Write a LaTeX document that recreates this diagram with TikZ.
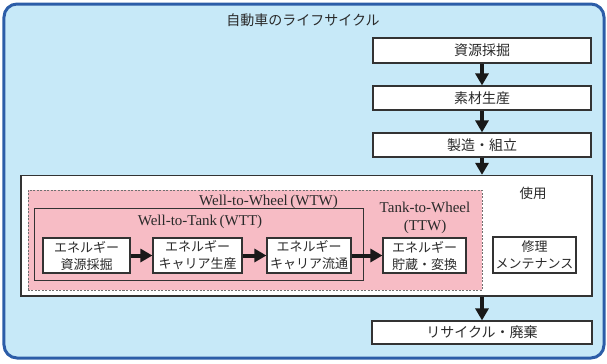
\documentclass[tikz,border=0pt]{standalone}
\usepackage{fontspec}
\setmainfont{Liberation Serif}
\newfontfamily\jp{Noto Sans CJK JP}
\usetikzlibrary{arrows.meta}
\definecolor{lifeblue}{HTML}{C7E9F8}
\definecolor{lifeborder}{HTML}{2C5DA8}
\definecolor{wtwpink}{HTML}{F7BCC5}
\definecolor{boxline}{HTML}{333333}
\definecolor{txt}{HTML}{2A2A2A}
\tikzset{
  lifebox/.style={draw=lifeborder, line width=3bp, fill=lifeblue, rounded corners=13bp, inner sep=0pt},
  stagebox/.style={draw=boxline, line width=1.2bp, fill=white, inner sep=0pt, text=txt,
    font=\jp\fontsize{14bp}{17bp}\selectfont},
  usebox/.style={draw=boxline, line width=1.3bp, fill=white, inner sep=0pt},
  pinkbox/.style={draw=boxline!70, line width=0.9bp, dash pattern=on 2bp off 1.5bp, fill=wtwpink, inner sep=0pt},
  wttbox/.style={draw=boxline, line width=1bp, inner sep=0pt},
  ebox/.style={draw=boxline, line width=1.2bp, fill=white, inner sep=0pt, align=center, text=txt,
    font=\jp\fontsize{13bp}{17bp}\selectfont},
  latinlabel/.style={inner sep=0pt, text=txt, align=center, font=\fontsize{15bp}{18bp}\selectfont},
  jplabel/.style={inner sep=0pt, text=txt, font=\jp\fontsize{14bp}{17bp}\selectfont},
  bigarrow/.style={line width=4bp, draw=black!90, -{Triangle[length=12bp,width=13bp]}},
}
\begin{document}
\begin{tikzpicture}[x=1bp,y=-1bp]
\useasboundingbox (0,0) rectangle (607,363);
% outer life-cycle frame
\node[lifebox, minimum width=600bp, minimum height=354bp] (life) at (304,181) {};
\node[jplabel] (title) at (303,20) {自動車のライフサイクル};
% right column
\node[stagebox, minimum width=218bp, minimum height=25bp] (r1) at (482,50.5) {資源採掘};
\node[stagebox, minimum width=218bp, minimum height=24bp] (r2) at (482,98) {素材生産};
\node[stagebox, minimum width=218bp, minimum height=24bp] (r3) at (482,145) {製造・組立};
% use box
\node[usebox, minimum width=571bp, minimum height=120.5bp] (use) at (306.5,235.75) {};
\node[jplabel, font=\jp\fontsize{13.5bp}{17bp}\selectfont] (uselabel) at (533,193) {使用};
% WTW region
\node[pinkbox, minimum width=454bp, minimum height=100bp] (wtw) at (255,240) {};
\node[latinlabel] (wtwlabel) at (268.5,202) {Well-to-Wheel\,(WTW)};
\node[wttbox, minimum width=328bp, minimum height=72bp] (wtt) at (199,244) {};
\node[latinlabel] (wttlabel) at (200,222) {Well-to-Tank\,(WTT)};
\node[latinlabel] (ttwlabel) at (425,218) {Tank-to-Wheel\\(TTW)};
% energy boxes
\node[ebox, minimum width=87bp, minimum height=35bp] (e1) at (86.5,255.5) {エネルギー\\資源採掘};
\node[ebox, minimum width=89bp, minimum height=35bp] (e2) at (197.5,255.5) {エネルギー\\キャリア生産};
\node[ebox, minimum width=84bp, minimum height=35bp] (e3) at (309,255.5) {エネルギー\\キャリア流通};
\node[ebox, minimum width=83bp, minimum height=35bp] (e4) at (424.5,255.5) {エネルギー\\貯蔵・変換};
\node[ebox, minimum width=83bp, minimum height=36bp] (repair) at (534.5,255) {修理\\メンテナンス};
% recycle
\node[stagebox, minimum width=220bp, minimum height=23bp] (recycle) at (482,332.5) {リサイクル・廃棄};
% arrows
\draw[bigarrow] (r1.south) -- (r2.north);
\draw[bigarrow] (r2.south) -- (r3.north);
\draw[bigarrow] (r3.south) -- (r3.south |- use.north);
\draw[bigarrow] (use.south -| recycle.north) -- (recycle.north);
\draw[bigarrow] (e1.east) -- (e2.west);
\draw[bigarrow] (e2.east) -- (e3.west);
\draw[bigarrow] (e3.east) -- (e4.west);
\end{tikzpicture}
\end{document}
